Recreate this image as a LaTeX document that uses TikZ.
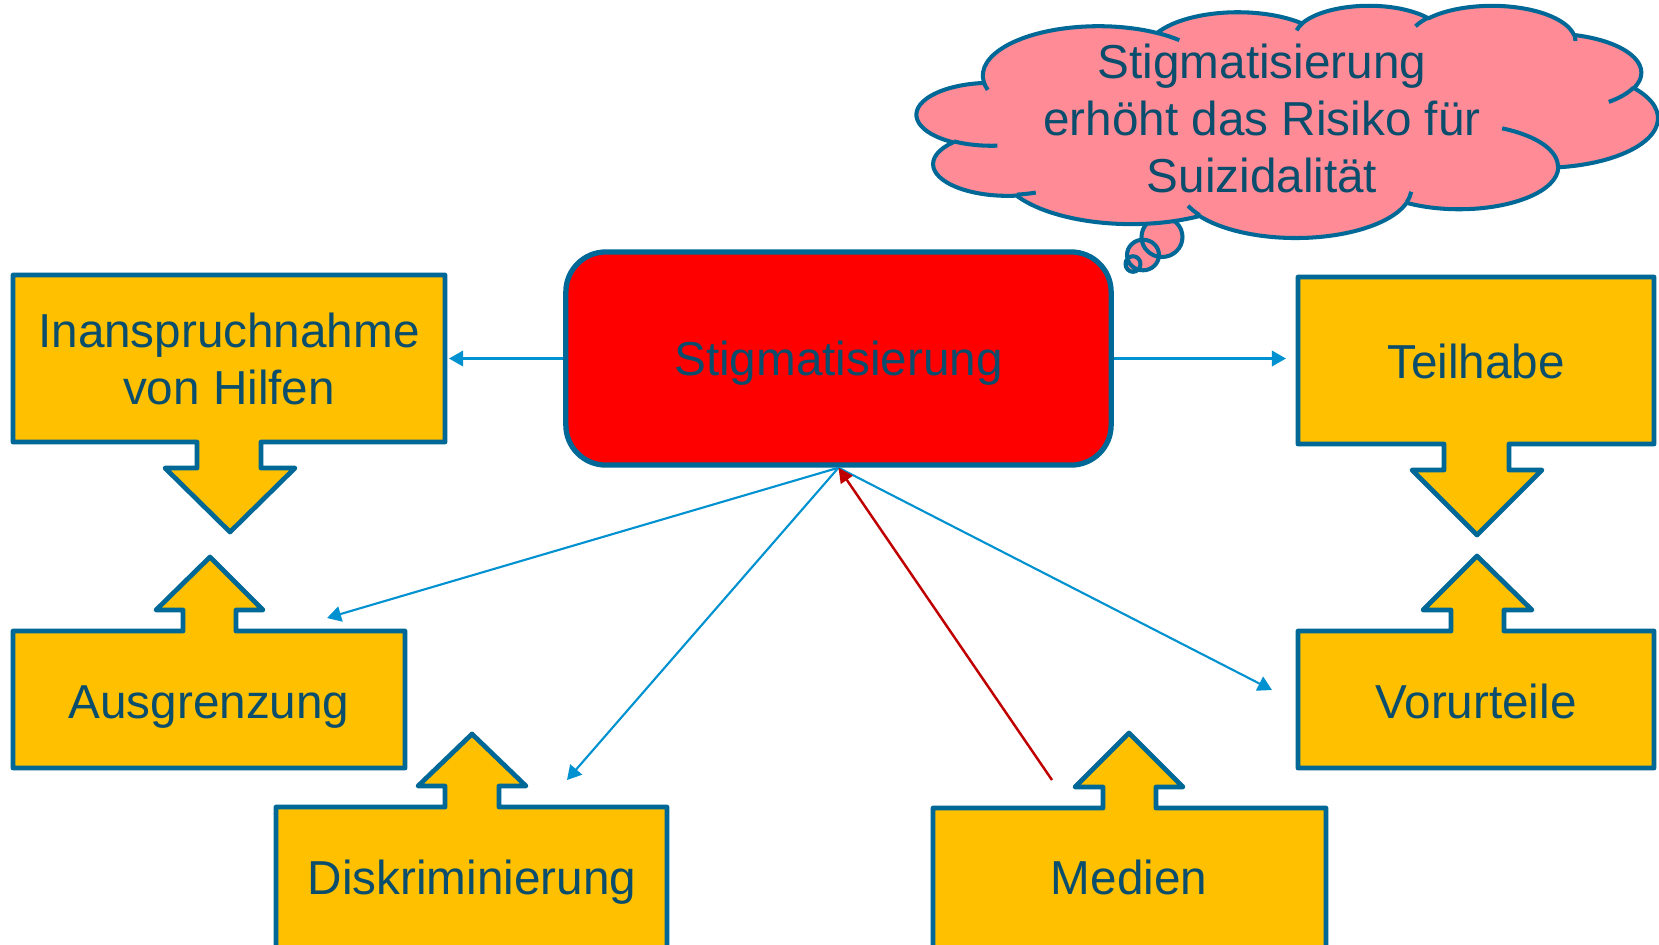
\documentclass[tikz,border=0pt]{standalone}
\usepackage{fontspec}
\setmainfont{Liberation Sans}
\usetikzlibrary{arrows.meta}
\definecolor{rand}{RGB}{0,104,150}
\definecolor{schrift}{RGB}{10,77,108}
\definecolor{gelb}{RGB}{255,192,0}
\definecolor{rosa}{RGB}{255,139,150}
\definecolor{pfeil}{RGB}{0,146,208}
\definecolor{dunkelrot}{RGB}{192,0,0}
\begin{document}
\begin{tikzpicture}[x=0.01cm, y=-0.01cm, line join=round,
  kasten/.style={draw=rand, fill=gelb, line width=1.35pt},
  wolke/.style={draw=rand, fill=rosa, line width=1.15pt},
  beschrift/.style={text=schrift, font=\fontsize{13.55}{16.2}\selectfont, align=center, inner sep=0pt},
  pfeilblau/.style={draw=pfeil, line width=0.6pt, -{Triangle[length=4pt, width=4.4pt]}},
  pfeilrot/.style={draw=dunkelrot, line width=0.7pt, -{Triangle[length=4.2pt, width=4pt]}}]
	\fill[white] (0,0) rectangle (1659,944);
	\useasboundingbox (0,0) rectangle (1659,944);
	% Kaesten mit Pfeil nach unten
	\draw[kasten] (13,275) -- (445,275) -- (445,442) -- (261,442) -- (261,468) -- (295,468) -- (230,532) -- (165,468) -- (197,468) -- (197,442) -- (13,442) -- cycle;
	\draw[kasten] (1298,277) -- (1654,277) -- (1654,444) -- (1509,444) -- (1509,470) -- (1542,470) -- (1477,535) -- (1412,470) -- (1444,470) -- (1444,444) -- (1298,444) -- cycle;
	% Kaesten mit Pfeil nach oben
	\draw[kasten] (13,631) -- (183,631) -- (183,610) -- (156,610) -- (210,557) -- (263,610) -- (236,610) -- (236,631) -- (405,631) -- (405,768) -- (13,768) -- cycle;
	\draw[kasten] (1298,631) -- (1451,631) -- (1451,610) -- (1423,610) -- (1477,556) -- (1532,610) -- (1504,610) -- (1504,631) -- (1654,631) -- (1654,768) -- (1298,768) -- cycle;
	\draw[kasten] (276,970) -- (276,807) -- (445,807) -- (445,786) -- (418,786) -- (472,734) -- (526,786) -- (499,786) -- (499,807) -- (667,807) -- (667,970) -- cycle;
	\draw[kasten] (933,970) -- (933,808) -- (1103,808) -- (1103,787) -- (1075,787) -- (1129,733) -- (1183,787) -- (1156,787) -- (1156,808) -- (1326,808) -- (1326,970) -- cycle;
	\node[beschrift] (inanspruchnahme) at (229,359) {Inanspruchnahme\\von Hilfen};
	\node[beschrift, anchor=base] (teilhabe) at (1476,378) {Teilhabe};
	\node[beschrift, anchor=base] (ausgrenzung) at (209,718) {Ausgrenzung};
	\node[beschrift, anchor=base] (vorurteile) at (1476,718) {Vorurteile};
	\node[beschrift, anchor=base] (diskriminierung) at (472,894) {Diskriminierung};
	\node[beschrift, anchor=base] (medien) at (1129,894) {Medien};
	% Mitte
	\node[draw=rand, fill=red, line width=1.5pt, rounded corners=0.4cm, minimum width=5.45cm, minimum height=2.13cm,
	  text=schrift, font=\fontsize{13.55}{16.2}\selectfont, text depth=0pt] (stigma) at (838.5,358.5) {Stigmatisierung};
	\coordinate (zuInanspruchnahme) at (449,358.5);
	\coordinate (zuTeilhabe) at (1286,358.5);
	\coordinate (zuAusgrenzung) at (327,618);
	\coordinate (zuDiskriminierung) at (567,780);
	\coordinate (zuVorurteile) at (1272,690);
	\coordinate (vonMedien) at (1052,780);
	\draw[pfeilblau] (stigma.west) -- (zuInanspruchnahme);
	\draw[pfeilblau] (stigma.east) -- (zuTeilhabe);
	\draw[pfeilblau] (stigma.south) -- (zuAusgrenzung);
	\draw[pfeilblau] (stigma.south) -- (zuDiskriminierung);
	\draw[pfeilblau] (stigma.south) -- (zuVorurteile);
	\draw[pfeilrot] (vonMedien) -- (stigma.south);
	% Denkblasen
	\fill[rosa] (1162,237) ellipse [x radius=20.5, y radius=20] (1143,255) ellipse [x radius=16, y radius=15.3] (1133,264) ellipse [x radius=7.5, y radius=7.8];
	\draw[wolke, fill=none] (1162,237) ellipse [x radius=20.5, y radius=20] (1143,255) ellipse [x radius=16, y radius=15.3] (1133,264) ellipse [x radius=7.5, y radius=7.8];
	% Wolke
	\begin{scope}[shift={(917,5)}, x=0.017130cm, y=-0.0053704cm]
		\gdef\wolkenpfad{}
		\foreach \wr/\hr/\st/\sw in {67.53/91.90/-190.4875/123.7805, 53.33/72.67/-144.1024/89.9452,
		  43.65/59.45/-145.8079/99.7230, 48.57/65.95/-130.9861/117.2417, 53.33/72.73/-78.7089/109.0269,
		  67.75/92.20/-46.2673/130.2690, 57.85/78.67/0.6250/114.0333, 67.52/92.15/22.4516/115.1726,
		  77.20/105.43/66.2426/75.7110, 43.60/59.18/-274.9421/146.7356, 43.45/59.45/-246.8285/152.5189}{
			\pgfmathsetmacro\ts{atan2(\wr*sin(\st),\hr*cos(\st))}
			\pgfmathsetmacro\dt{mod(atan2(\wr*sin(\st+\sw),\hr*cos(\st+\sw))-\ts+720,360)}
			\xdef\wolkenpfad{\wolkenpfad arc[start angle=\ts, delta angle=\dt, x radius=\wr, y radius=\hr]}
		}
		\filldraw[wolke] (39.00,143.70) \wolkenpfad -- cycle;
		\foreach \px/\py/\wr/\hr/\st/\sw in {46.93/261.77/43.45/59.45/86.7420/26.4295, 69.28/348.99/43.60/59.18/73.6105/11.4475,
		  164.78/390.90/67.52/92.15/137.6242/14.0811, 288.27/347.51/67.52/92.15/6.4533/15.9984,
		  341.29/229.54/57.85/78.67/-70.2924/70.9174, 417.98/153.54/53.33/72.73/30.3180/27.7515,
		  383.24/54.26/48.57/65.95/-13.7443/14.8589, 290.78/39.52/48.57/65.95/-149.1815/18.1954,
		  221.41/47.20/43.65/59.45/-163.4943/17.6864, 140.00/51.92/67.53/91.90/-66.7070/12.3194,
		  41.27/157.89/67.53/91.90/157.6544/11.8582}{
			\pgfmathsetmacro\ts{atan2(\wr*sin(\st),\hr*cos(\st))}
			\pgfmathsetmacro\dt{mod(atan2(\wr*sin(\st+\sw),\hr*cos(\st+\sw))-\ts+720,360)}
			\draw[wolke, fill=none] (\px,\py) arc[start angle=\ts, delta angle=\dt, x radius=\wr, y radius=\hr];
		}
	\end{scope}
	\node[beschrift] (wolkentext) at (1262,118) {Stigmatisierung\\erhöht das Risiko für\\Suizidalität};
\end{tikzpicture}
\end{document}
